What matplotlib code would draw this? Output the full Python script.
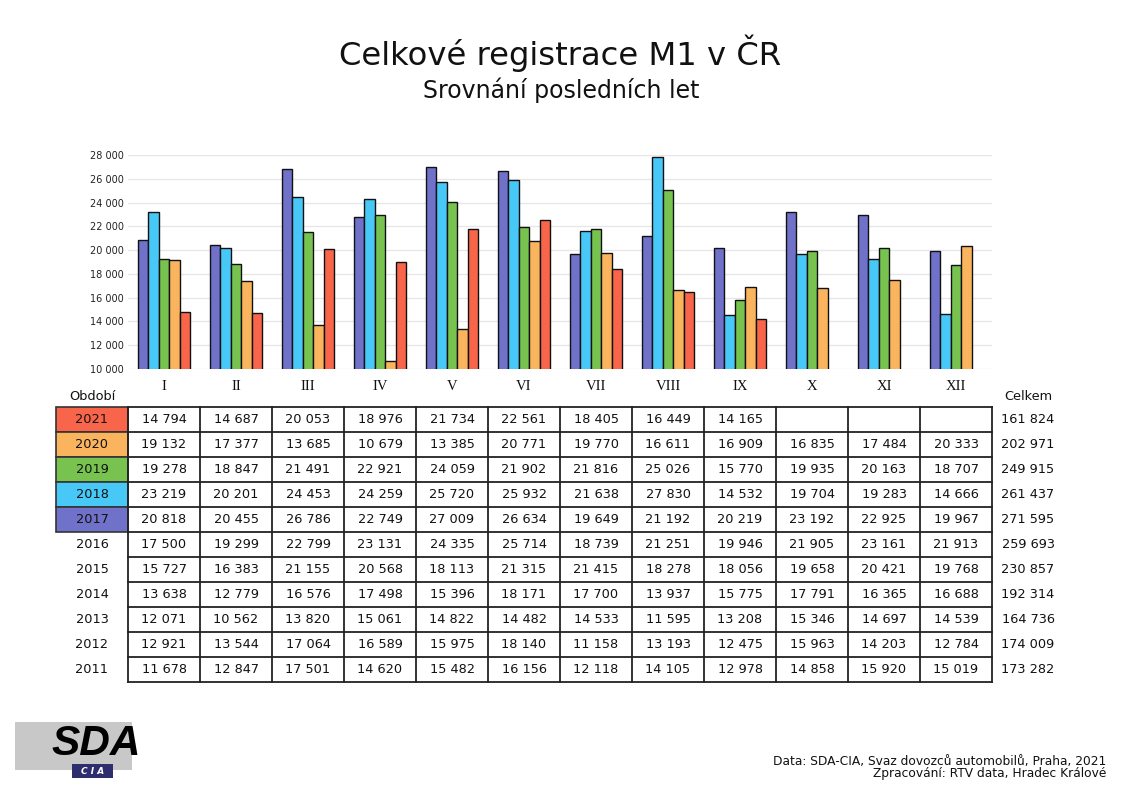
import matplotlib
matplotlib.use("Agg")
import matplotlib.pyplot as plt
from matplotlib.patches import Rectangle
import numpy as np

# ---------------- data ----------------
months = ["I", "II", "III", "IV", "V", "VI", "VII", "VIII", "IX", "X", "XI", "XII"]
table_years = [2021, 2020, 2019, 2018, 2017, 2016, 2015, 2014, 2013, 2012, 2011]
v2021 = [14794, 14687, 20053, 18976, 21734, 22561, 18405, 16449, 14165, None, None, None]
v2020 = [19132, 17377, 13685, 10679, 13385, 20771, 19770, 16611, 16909, 16835, 17484, 20333]
v2019 = [19278, 18847, 21491, 22921, 24059, 21902, 21816, 25026, 15770, 19935, 20163, 18707]
v2018 = [23219, 20201, 24453, 24259, 25720, 25932, 21638, 27830, 14532, 19704, 19283, 14666]
v2017 = [20818, 20455, 26786, 22749, 27009, 26634, 19649, 21192, 20219, 23192, 22925, 19967]
v2016 = [17500, 19299, 22799, 23131, 24335, 25714, 18739, 21251, 19946, 21905, 23161, 21913]
v2015 = [15727, 16383, 21155, 20568, 18113, 21315, 21415, 18278, 18056, 19658, 20421, 19768]
v2014 = [13638, 12779, 16576, 17498, 15396, 18171, 17700, 13937, 15775, 17791, 16365, 16688]
v2013 = [12071, 10562, 13820, 15061, 14822, 14482, 14533, 11595, 13208, 15346, 14697, 14539]
v2012 = [12921, 13544, 17064, 16589, 15975, 18140, 11158, 13193, 12475, 15963, 14203, 12784]
v2011 = [11678, 12847, 17501, 14620, 15482, 16156, 12118, 14105, 12978, 14858, 15920, 15019]
totals = [161824, 202971, 249915, 261437, 271595, 259693, 230857, 192314, 164736, 174009, 173282]
table_values = [v2021, v2020, v2019, v2018, v2017, v2016, v2015, v2014, v2013, v2012, v2011]

chart_years = [2017, 2018, 2019, 2020, 2021]
chart_values = [v2017, v2018, v2019, v2020, v2021]
year_colors = {2017: "#6f72c8", 2018: "#48c8f6", 2019: "#78c350", 2020: "#fbb45e", 2021: "#f8654a"}
yticks = list(range(10000, 28001, 2000))


def fmt(v):
    return f"{v:,}".replace(",", " ")


W, H = 1123, 792
fig = plt.figure(figsize=(W / 100, H / 100), dpi=100)
fig.patch.set_facecolor("white")

# full-figure pixel overlay for table, titles, logo
ov = fig.add_axes([0, 0, 1, 1])
ov.set_xlim(0, W)
ov.set_ylim(H, 0)
ov.axis("off")

# ---------------- chart ----------------
x0, x1 = 128, 992
y_top, y_bot = 155, 369
ax = fig.add_axes([x0 / W, 1 - y_bot / H, (x1 - x0) / W, (y_bot - y_top) / H])
ax.set_facecolor("none")
ax.set_xlim(-0.5, len(months) - 0.5)
ax.set_ylim(10000, 28000)
bw = 0.145
xs = np.arange(len(months))
for k, (yr, vals) in enumerate(zip(chart_years, chart_values)):
    arr = np.array([np.nan if v is None else v for v in vals], dtype=float)
    ax.bar(xs + (k - 2) * bw, arr, width=bw, color=year_colors[yr],
           edgecolor="#111111", linewidth=1.0, zorder=3)
ax.set_yticks(yticks)
ax.set_yticklabels([fmt(t) for t in yticks], fontsize=7, color="#222222")
ax.grid(axis="y", color="#e6e6e6", linewidth=0.9, zorder=0)
ax.tick_params(axis="y", length=0, pad=3)
ax.set_xticks([])
for s in ax.spines.values():
    s.set_visible(False)

# ---------------- titles ----------------
ov.text(W / 2 - 1, 53, "Celkové registrace M1 v ČR", ha="center", va="center",
        fontsize=23.2, color="#111111")
ov.text(W / 2, 90, "Srovnání posledních let", ha="center", va="center",
        fontsize=17, color="#111111")

# ---------------- table ----------------
col0 = 128
cw = 72
row0 = 407
rh = 25
yc_left = 56
tx = dict(fontsize=9.3, color="#111111", ha="center", va="center")

for i, m in enumerate(months):
    ov.text(col0 + cw * (i + 0.5), 387, m, ha="center", va="center",
            fontsize=10.5, family="Liberation Serif", color="#111111")
ov.text((yc_left + col0) / 2, 396, "Období", **tx)
ov.text(1028, 396, "Celkem", **tx)

for r, (yr, vals, tot) in enumerate(zip(table_years, table_values, totals)):
    yc = row0 + rh * (r + 0.5)
    if yr in year_colors:
        ov.add_patch(Rectangle((yc_left, row0 + rh * r), col0 - yc_left, rh,
                               facecolor=year_colors[yr], edgecolor="#333333",
                               linewidth=1.2, zorder=2))
    ov.text((yc_left + col0) / 2, yc, str(yr), zorder=4, **tx)
    for i, v in enumerate(vals):
        if v is not None:
            ov.text(col0 + cw * (i + 0.5), yc, fmt(v), zorder=4, **tx)
    ov.text(1028, yc, fmt(tot), zorder=4, **tx)

n_rows = len(table_years)
for k in range(len(months) + 1):
    ov.plot([col0 + cw * k] * 2, [row0, row0 + rh * n_rows], color="#222222",
            linewidth=1.3, zorder=3, solid_capstyle="projecting")
for r in range(n_rows + 1):
    ov.plot([col0, col0 + cw * len(months)], [row0 + rh * r] * 2, color="#222222",
            linewidth=1.3, zorder=3, solid_capstyle="projecting")

# ---------------- logo ----------------
ov.add_patch(Rectangle((15, 722), 117, 48, facecolor="#c8c8c8", edgecolor="none"))
ov.text(96, 744, "SDA", ha="center", va="center", fontsize=30.5, fontweight="bold",
        fontstyle="italic", family="Liberation Sans", color="black")
ov.add_patch(Rectangle((72, 764), 41, 14, facecolor="#2e2e6e", edgecolor="none"))
ov.text(92.5, 771, "C I A", ha="center", va="center", fontsize=6.5, fontweight="bold",
        fontstyle="italic", color="white")

# ---------------- footer ----------------
ov.text(1106, 761, "Data: SDA-CIA, Svaz dovozců automobilů, Praha, 2021",
        ha="right", va="center", fontsize=8.8, color="#111111")
ov.text(1106, 773, "Zpracování: RTV data, Hradec Králové",
        ha="right", va="center", fontsize=8.8, color="#111111")

fig.savefig("out.png", dpi=100, facecolor="white")
